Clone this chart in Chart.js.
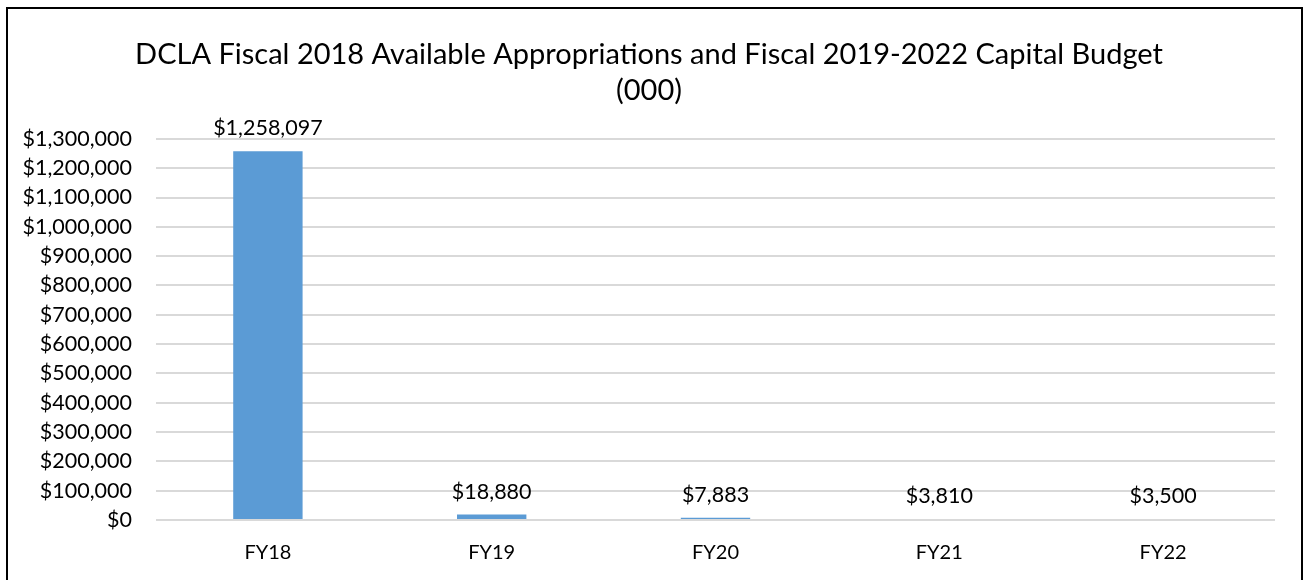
<!DOCTYPE html>
<html lang="en">
<head>
    <meta charset="UTF-8">
    <title>DCLA Capital Budget</title>
    <style>
        body { margin: 0; background: #fff; }
        #frame {
            position: absolute; left: 6px; top: 7px;
            width: 1297px; height: 580px;
            border: 2px solid #000; box-sizing: border-box;
        }
    </style>
</head>
<body>
    <div id="frame"><canvas id="budgetChart"></canvas></div>

    <script src="https://cdn.jsdelivr.net/npm/chart.js"></script>
    <script>
        const years = ['FY18', 'FY19', 'FY20', 'FY21', 'FY22'];
        const amounts = [1258097, 18880, 7883, 3810, 3500];
        const titleLines = ['DCLA Fiscal 2018 Available Appropriations and Fiscal 2019-2022 Capital Budget', '(000)'];

        const money = v => '$' + v.toLocaleString('en-US');
        const FONT = 'Lato, "DejaVu Sans", sans-serif';

        // draw the value above each bar
        const barLabels = {
            id: 'barLabels',
            afterDatasetsDraw(chart) {
                const ctx = chart.ctx;
                const meta = chart.getDatasetMeta(0);
                ctx.save();
                ctx.font = '21.5px ' + FONT;
                ctx.fillStyle = '#000';
                ctx.textAlign = 'center';
                ctx.textBaseline = 'bottom';
                meta.data.forEach((bar, i) => {
                    ctx.fillText(money(amounts[i]), bar.x, bar.y - 12);
                });
                ctx.restore();
            }
        };

        function draw() {
            new Chart(document.getElementById('budgetChart'), {
                type: 'bar',
                data: {
                    labels: years,
                    datasets: [{
                        data: amounts,
                        backgroundColor: '#5B9BD5',
                        barPercentage: 0.31,
                        categoryPercentage: 1
                    }]
                },
                options: {
                    responsive: true,
                    maintainAspectRatio: false,
                    animation: false,
                    layout: { padding: { left: 15, right: 26, top: 28, bottom: 7 } },
                    plugins: {
                        legend: { display: false },
                        tooltip: { enabled: false },
                        title: {
                            display: true,
                            text: titleLines,
                            color: '#000',
                            font: { family: FONT, size: 29, weight: 'normal', lineHeight: 1.24 },
                            padding: { top: 0, bottom: 30 }
                        }
                    },
                    scales: {
                        x: {
                            grid: { display: false },
                            border: { display: false },
                            ticks: { color: '#000', font: { family: FONT, size: 20 }, padding: 13 }
                        },
                        y: {
                            min: 0,
                            max: 1300000,
                            border: { display: false },
                            grid: { color: '#D9D9D9', lineWidth: 2, drawTicks: false },
                            afterFit: s => { s.width = 133; },
                            ticks: {
                                stepSize: 100000,
                                autoSkip: false,
                                color: '#000',
                                padding: 24,
                                font: { family: FONT, size: 21.5 },
                                callback: v => money(v)
                            }
                        }
                    }
                },
                plugins: [barLabels]
            });
        }

        document.fonts.load('22px Lato').then(draw, draw);
    </script>
</body>
</html>
